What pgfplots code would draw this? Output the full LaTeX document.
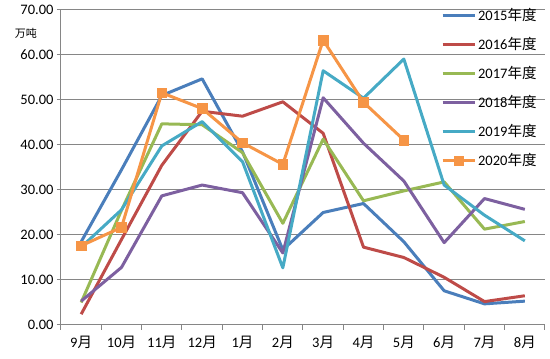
\documentclass[border=0pt]{standalone}
\usepackage{pgfplots}
\pgfplotsset{compat=1.18}
\usepackage{fontspec}
\setmainfont{Carlito}
\newfontfamily\cjk{Noto Sans CJK SC}
\definecolor{c15}{HTML}{4A7EBB}
\definecolor{c16}{HTML}{BE4B48}
\definecolor{c17}{HTML}{98B954}
\definecolor{c18}{HTML}{7D60A0}
\definecolor{c19}{HTML}{46AAC5}
\definecolor{c20}{HTML}{F69546}
\definecolor{gridc}{HTML}{868686}
\begin{document}
\begin{tikzpicture}
\useasboundingbox (-61pt,-34pt) rectangle (489pt,325pt);
\begin{axis}[
  scale only axis, width=484pt, height=315pt,
  at={(0,0)}, anchor=south west,
  xmin=-0.5, xmax=11.5, ymin=0, ymax=70,
  axis x line*=bottom, axis y line*=left,
  axis line style={gridc, line width=1pt},
  ytick={0,10,...,70},
  ymajorgrids, grid style={gridc, line width=1pt},
  xtick={0,...,11},
  xticklabels={9{\cjk 月},10{\cjk 月},11{\cjk 月},12{\cjk 月},1{\cjk 月},2{\cjk 月},3{\cjk 月},4{\cjk 月},5{\cjk 月},6{\cjk 月},7{\cjk 月},8{\cjk 月}},
  minor xtick={-0.5,0.5,...,11.5},
  major x tick style={draw=none},
  minor x tick style={gridc, line width=1pt},
  y tick style={gridc, line width=1pt},
  tick align=outside, major tick length=4pt, minor tick length=5pt,
  yticklabel style={/pgf/number format/.cd, fixed, fixed zerofill, precision=2, assume math mode=true},
  ticklabel style={font=\fontsize{14.5}{16}\selectfont},
  xticklabel style={yshift=-4pt},
  clip=false,
  legend style={draw=none, fill=none, at={(0.785,1.012)}, anchor=north west,
    font=\fontsize{14.5}{16}\selectfont, row sep=11.3pt, inner sep=0pt},
  legend cell align=left,
  legend image code/.code={\draw[#1, mark repeat=2, mark phase=2] plot coordinates {(0pt,0pt)(16pt,0pt)(32pt,0pt)};},
  every axis plot/.append style={line width=3pt, line join=round},
]
\addplot[c15, mark=none] coordinates {(0,18.5)(1,34.5)(2,51)(3,54.7)(4,38.5)(5,16.7)(6,25)(7,27)(8,18.5)(9,7.6)(10,4.7)(11,5.3)};
\addlegendentry{2015{\cjk 年度}}
\addplot[c16, mark=none] coordinates {(0,2.4)(1,19)(2,35.5)(3,47.5)(4,46.4)(5,49.6)(6,42.6)(7,17.3)(8,15)(9,10.6)(10,5.2)(11,6.5)};
\addlegendentry{2016{\cjk 年度}}
\addplot[c17, mark=none] coordinates {(0,5.0)(1,25.5)(2,44.7)(3,44.5)(4,38.3)(5,22.6)(6,41.3)(7,27.6)(8,29.8)(9,31.8)(10,21.3)(11,23)};
\addlegendentry{2017{\cjk 年度}}
\addplot[c18, mark=none] coordinates {(0,5.3)(1,12.8)(2,28.7)(3,31.1)(4,29.4)(5,16.0)(6,50.5)(7,40.4)(8,32)(9,18.3)(10,28.1)(11,25.7)};
\addlegendentry{2018{\cjk 年度}}
\addplot[c19, mark=none] coordinates {(0,17.3)(1,25.6)(2,39.8)(3,45.2)(4,36.3)(5,12.7)(6,56.5)(7,50.4)(8,59.1)(9,31.1)(10,24.4)(11,18.7)};
\addlegendentry{2019{\cjk 年度}}
\addplot[c20, mark=square*, mark size=4.8pt, mark options={solid, line width=0.5pt, line join=miter}] coordinates {(0,17.6)(1,21.7)(2,51.6)(3,48.1)(4,40.5)(5,35.7)(6,63.3)(7,49.5)(8,41.1)};
\addlegendentry{2020{\cjk 年度}}
\end{axis}
\node[font=\cjk\fontsize{11}{12}\selectfont] at (-35pt,292pt) {万吨};
\end{tikzpicture}
\end{document}
